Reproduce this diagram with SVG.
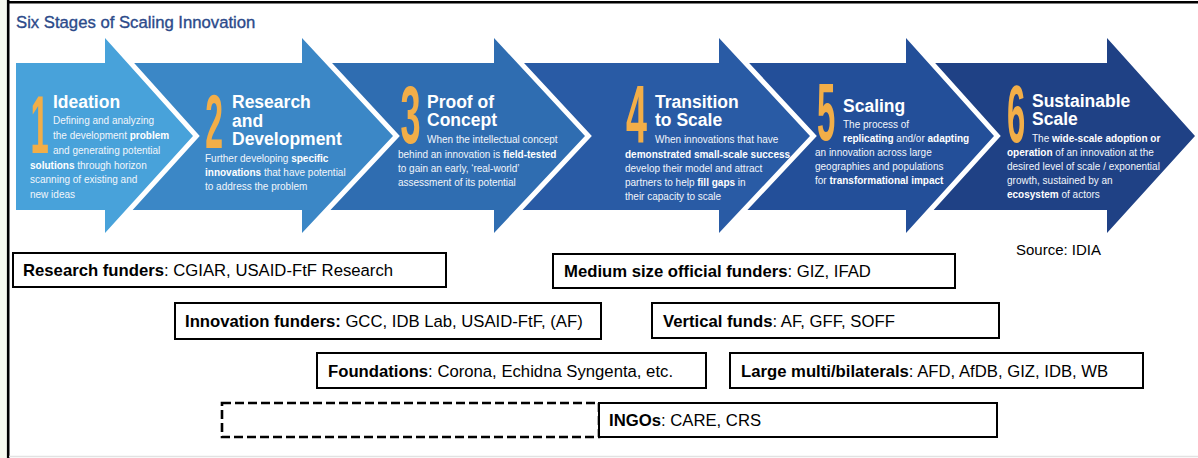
<svg xmlns="http://www.w3.org/2000/svg" width="1198" height="458" viewBox="0 0 1198 458">
<style>
.arrow{stroke:#ffffff;stroke-width:10;paint-order:stroke;stroke-linejoin:miter}
.digit{font-family:"Liberation Sans",Arial,sans-serif;font-weight:bold;fill:#f2ae48;text-anchor:middle}
.st{font-family:"Liberation Sans",Arial,sans-serif;font-weight:bold;font-size:17.5px;fill:#ffffff}
.ds{font-family:"Liberation Sans",Arial,sans-serif;font-size:10px;fill:#f2f6fb}
.b{font-weight:bold;fill:#ffffff}
.box{fill:#ffffff;stroke:#000000;stroke-width:2}
.dash{fill:none;stroke:#000000;stroke-width:2.6;stroke-dasharray:9 4}
.bl{font-family:"Liberation Sans",Arial,sans-serif;font-size:16.7px;fill:#000000}
.bb{font-weight:bold}
</style>
<rect x="0" y="0" width="1198" height="458" fill="#ffffff"/>
<rect x="0" y="0" width="7" height="458" fill="#f7faef"/>
<line x1="8.2" y1="0" x2="8.2" y2="458" stroke="#000000" stroke-width="2.6"/>
<line x1="7" y1="2.2" x2="1198" y2="2.2" stroke="#000000" stroke-width="2.6"/>
<line x1="9" y1="456.5" x2="1198" y2="456.5" stroke="#e2e2e2" stroke-width="1.5"/>

<text x="16" y="28.3" font-family="'Liberation Sans',Arial,sans-serif" font-size="16.7" fill="#2c4a8a" stroke="#2c4a8a" stroke-width="0.35">Six Stages of Scaling Innovation</text>

<g id="arrows">
<path id="arrow6" class="arrow" fill="#1f4185" d="M905,63 L1107,63 L1107,38 L1195,136 L1107,233 L1107,210 L905,210 Z"/>
<path id="arrow5" class="arrow" fill="#234f99" d="M715,63 L906,63 L906,38 L994,136 L906,233 L906,210 L715,210 Z"/>
<path id="arrow4" class="arrow" fill="#295ba5" d="M490,63 L719,63 L719,38 L810,136 L719,233 L719,210 L490,210 Z"/>
<path id="arrow3" class="arrow" fill="#2f6db1" d="M300,63 L494,63 L494,38 L585,136 L494,233 L494,210 L300,210 Z"/>
<path id="arrow2" class="arrow" fill="#3b87c6" d="M110,63 L302,63 L302,38 L393,136 L302,233 L302,210 L110,210 Z"/>
<path id="arrow1" class="arrow" fill="#48a2da" d="M16,63 L105,63 L105,38 L193,136 L105,233 L105,210 L16,210 Z"/>
</g>

<g id="stage1">
<text class="digit" font-size="82" transform="translate(39.5,153) scale(0.4,1)">1</text>
<text class="st" x="53" y="108">Ideation</text>
<text class="ds" x="53" y="124">Defining and analyzing</text>
<text class="ds" x="53" y="139">the development <tspan class="b">problem</tspan></text>
<text class="ds" x="53" y="154">and generating potential</text>
<text class="ds" x="30" y="168.5"><tspan class="b">solutions</tspan> through horizon</text>
<text class="ds" x="30" y="183">scanning of existing and</text>
<text class="ds" x="30" y="197.5">new ideas</text>
</g>

<g id="stage2">
<text class="digit" font-size="76" transform="translate(214,148) scale(0.42,1)">2</text>
<text class="st" x="232" y="108">Research</text>
<text class="st" x="232" y="126.5">and</text>
<text class="st" x="232" y="145">Development</text>
<text class="ds" x="205" y="162">Further developing <tspan class="b">specific</tspan></text>
<text class="ds" x="205" y="176"><tspan class="b">innovations</tspan> that have potential</text>
<text class="ds" x="205" y="190">to address the problem</text>
</g>

<g id="stage3">
<text class="digit" font-size="82" transform="translate(410.5,143) scale(0.44,1)">3</text>
<text class="st" x="427" y="108">Proof of</text>
<text class="st" x="427" y="126">Concept</text>
<text class="ds" x="427" y="142.5">When the intellectual concept</text>
<text class="ds" x="398" y="157.5">behind an innovation is <tspan class="b">field-tested</tspan></text>
<text class="ds" x="398" y="171.5">to gain an early, ‘real-world’</text>
<text class="ds" x="398" y="186">assessment of its potential</text>
</g>

<g id="stage4">
<text class="digit" font-size="82" transform="translate(636.5,142) scale(0.46,1)">4</text>
<text class="st" x="655" y="108">Transition</text>
<text class="st" x="655" y="126">to Scale</text>
<text class="ds" x="655" y="142.5">When innovations that have</text>
<text class="ds" x="625" y="157.5"><tspan class="b">demonstrated small-scale success</tspan></text>
<text class="ds" x="625" y="171.5">develop their model and attract</text>
<text class="ds" x="625" y="186">partners to help <tspan class="b">fill gaps</tspan> in</text>
<text class="ds" x="625" y="200">their capacity to scale</text>
</g>

<g id="stage5">
<text class="digit" font-size="82" transform="translate(826,140) scale(0.4,1)">5</text>
<text class="st" x="843" y="111.5">Scaling</text>
<text class="ds" x="843" y="127.5">The process of</text>
<text class="ds" x="843" y="141.7"><tspan class="b">replicating</tspan> and/or <tspan class="b">adapting</tspan></text>
<text class="ds" x="815" y="156">an innovation across large</text>
<text class="ds" x="815" y="170">geographies and populations</text>
<text class="ds" x="815" y="184">for <tspan class="b">transformational impact</tspan></text>
</g>

<g id="stage6">
<text class="digit" font-size="82" transform="translate(1016,142) scale(0.4,1)">6</text>
<text class="st" x="1032" y="107">Sustainable</text>
<text class="st" x="1032" y="125">Scale</text>
<text class="ds" x="1032" y="141.7">The <tspan class="b">wide-scale adoption or</tspan></text>
<text class="ds" x="1007" y="156"><tspan class="b">operation</tspan> of an innovation at the</text>
<text class="ds" x="1007" y="170">desired level of scale / exponential</text>
<text class="ds" x="1007" y="184">growth, sustained by an</text>
<text class="ds" x="1007" y="198"><tspan class="b">ecosystem</tspan> of actors</text>
</g>

<text x="1016" y="254.5" font-family="'Liberation Sans',Arial,sans-serif" font-size="15" fill="#000000">Source: IDIA</text>

<g id="research-funders">
<rect class="box" x="13" y="253" width="433" height="34"/>
<text class="bl" x="23" y="276"><tspan class="bb">Research funders</tspan>: CGIAR, USAID-FtF Research</text>
</g>
<g id="medium-funders">
<rect class="box" x="553" y="254" width="402" height="34"/>
<text class="bl" x="564" y="277"><tspan class="bb">Medium size official funders</tspan>: GIZ, IFAD</text>
</g>
<g id="innovation-funders">
<rect class="box" x="175" y="303" width="426" height="36"/>
<text class="bl" x="185" y="327"><tspan class="bb">Innovation funders:</tspan> GCC, IDB Lab, USAID-FtF, (AF)</text>
</g>
<g id="vertical-funds">
<rect class="box" x="652" y="303" width="347" height="35"/>
<text class="bl" x="663" y="326.5"><tspan class="bb">Vertical funds</tspan>: AF, GFF, SOFF</text>
</g>
<g id="foundations">
<rect class="box" x="317" y="353" width="389" height="35"/>
<text class="bl" x="328" y="377"><tspan class="bb">Foundations</tspan>: Corona, Echidna Syngenta, etc.</text>
</g>
<g id="large-multi">
<rect class="box" x="730" y="353" width="413" height="35"/>
<text class="bl" x="741" y="377"><tspan class="bb">Large multi/bilaterals</tspan>: AFD, AfDB, GIZ, IDB, WB</text>
</g>
<g id="dashed-box">
<rect class="dash" x="222" y="403" width="377" height="34"/>
</g>
<g id="ingos">
<rect class="box" x="599" y="403" width="398" height="34"/>
<text class="bl" x="609" y="425.5"><tspan class="bb">INGOs</tspan>: CARE, CRS</text>
</g>
</svg>
